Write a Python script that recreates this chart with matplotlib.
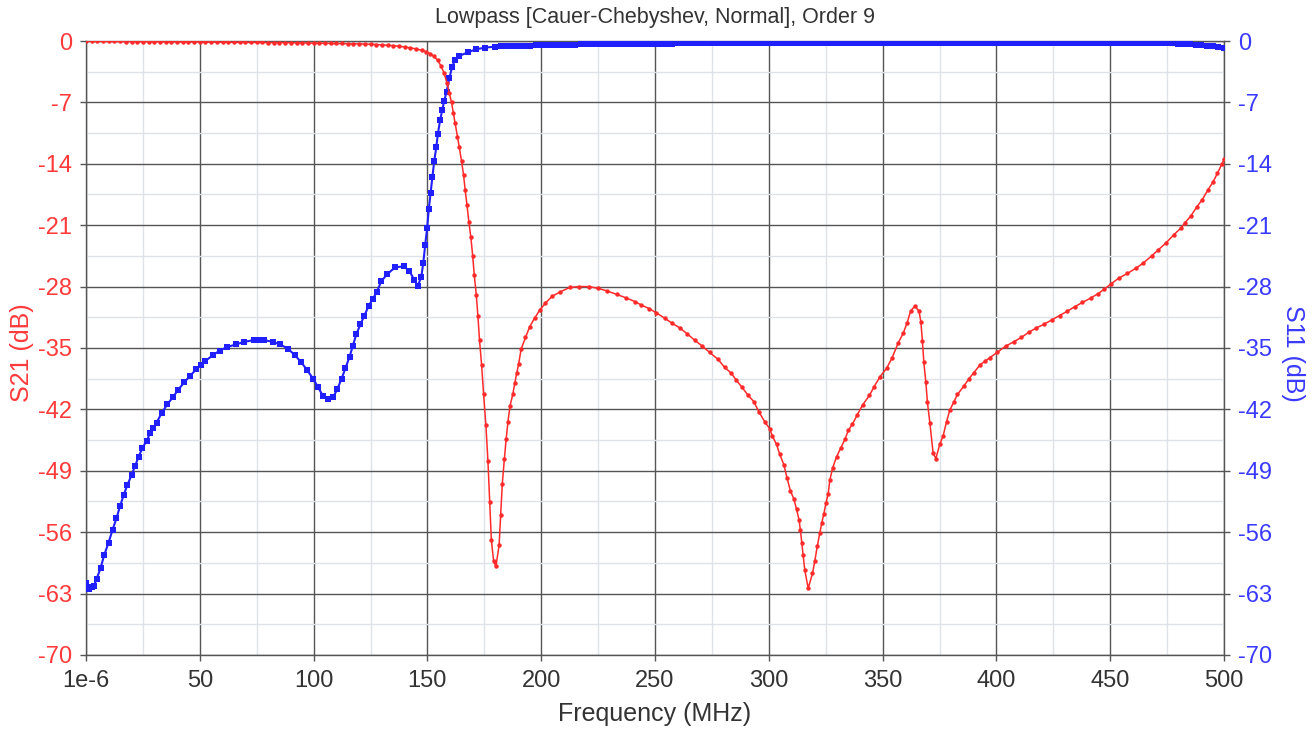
import matplotlib
matplotlib.use("Agg")
import matplotlib.pyplot as plt
from matplotlib.ticker import FixedLocator, MultipleLocator, FixedFormatter

plt.rcParams['font.family'] = ['Liberation Sans', 'DejaVu Sans']
plt.rcParams['axes.unicode_minus'] = False

title = "Lowpass [Cauer-Chebyshev, Normal], Order 9"
xlabel = "Frequency (MHz)"
ylabel_left = "S21 (dB)"
ylabel_right = "S11 (dB)"

x_ticks = [0, 50, 100, 150, 200, 250, 300, 350, 400, 450, 500]
x_tick_labels = ["1e-6", "50", "100", "150", "200", "250", "300", "350", "400", "450", "500"]
y_ticks = [0, -7, -14, -21, -28, -35, -42, -49, -56, -63, -70]
y_tick_labels = ["0", "-7", "-14", "-21", "-28", "-35", "-42", "-49", "-56", "-63", "-70"]

# S21 (red)
s21_freq = [0, 2.5, 5, 7.5, 10, 12.5, 15, 17.5, 20, 22.5, 25, 27.5, 30, 32.5, 35, 37.5, 40, 42.5, 45, 47.5,
            50, 52.5, 55, 57.5, 60, 62.5, 65, 67.5, 70, 72.5, 75, 77.5, 80, 82.5, 85, 87.5, 90, 92.5, 95, 97.5,
            100, 102.5, 105, 107.5, 110, 112.5, 115, 117.5, 120, 122.5, 125, 127.5, 130, 132.5, 135, 137.5,
            140, 142.5, 145, 147.5, 149.5, 151.3, 152.9, 154.5, 155.9, 157.4, 158.6, 159.6, 160.6, 161.4,
            162.2, 163.2, 164.0, 165.0, 165.9, 166.6, 167.4, 168.2, 169.1, 169.9, 170.6, 171.5, 172.2, 172.9,
            173.8, 174.7, 175.7, 176.6, 177.4, 178.1, 179.1, 180.1, 181.5, 182.2, 182.9, 183.8, 184.6, 185.4,
            186.3, 187.5, 188.4, 189.3, 190.1, 191.2, 193.1, 194.9, 197.1, 199.3, 201.8, 204.8, 208.4, 212.5,
            216.6, 221.0, 224.9, 229.0, 233.3, 237.4, 241.1, 244.0, 247.4, 250.6, 254.3, 257.6, 260.9, 264.2,
            267.4, 270.8, 274.0, 277.7, 280.6, 283.6, 285.8, 288.3, 290.9, 293.4, 295.7, 298.2, 300.4, 301.5,
            303.4, 304.8, 306.6, 308.0, 309.5, 311.0, 312.2, 313.3, 313.9, 314.5, 315.1, 315.8, 317.3, 319.2,
            320.2, 321.3, 322.4, 323.3, 324.2, 325.1, 326.1, 326.8, 328.0, 329.8, 331.6, 333.5, 334.9, 336.7,
            338.9, 341.2, 344.2, 346.3, 348.8, 351.8, 354.2, 356.9, 359.1, 360.8, 362.3, 364.2, 366.0, 366.8,
            367.5, 368.1, 369.0, 369.7, 370.8, 372.2, 373.4, 375.1, 376.6, 378.1, 379.5, 381.4, 382.9, 385.8,
            388.0, 390.1, 392.9, 395.0, 397.1, 400.3, 404.0, 407.6, 410.9, 414.3, 417.6, 420.9, 424.3, 427.8,
            431.2, 434.4, 437.8, 441.5, 444.7, 447.4, 450.3, 454.0, 457.6, 461.3, 464.6, 468.2, 471.2, 474.6,
            477.9, 481.2, 482.9, 485.3, 488.1, 490.4, 492.9, 495.1, 497.1, 499.1, 500.0]
s21_db = [0, -0.01, -0.02, -0.03, -0.04, -0.05, -0.05, -0.06, -0.07, -0.07, -0.08, -0.08, -0.09, -0.09, -0.10,
          -0.10, -0.10, -0.11, -0.11, -0.12, -0.12, -0.12, -0.13, -0.13, -0.14, -0.14, -0.15, -0.15, -0.16, -0.16,
          -0.17, -0.17, -0.18, -0.18, -0.19, -0.19, -0.20, -0.20, -0.21, -0.22, -0.23, -0.24, -0.25, -0.26, -0.27,
          -0.28, -0.30, -0.31, -0.33, -0.35, -0.37, -0.40, -0.44, -0.48, -0.53, -0.60, -0.68, -0.78, -0.90, -1.05,
          -1.22, -1.45, -1.75, -2.2, -2.8, -3.7, -4.8, -5.9, -7.0, -8.2, -9.4, -10.9, -12.1, -13.7, -15.3, -17.0,
          -18.7, -20.6, -22.4, -24.5, -26.7, -29.0, -31.4, -34.1, -36.9, -40.3, -43.8, -47.9, -52.6, -56.9, -59.3,
          -59.9, -57.5, -54.0, -50.5, -47.7, -45.4, -43.4, -41.6, -40.3, -39.0, -37.8, -36.8, -35.1, -33.8, -32.6,
          -31.6, -30.7, -29.9, -29.1, -28.6, -28.1, -28.0, -28.0, -28.2, -28.5, -28.9, -29.3, -29.7, -30.1, -30.5,
          -31.0, -31.6, -32.2, -32.7, -33.4, -34.1, -34.8, -35.5, -36.3, -37.2, -37.9, -38.7, -39.5, -40.4, -41.1,
          -42.3, -43.4, -44.2, -45.0, -46.0, -47.1, -48.3, -49.8, -51.3, -52.2, -53.4, -54.6, -55.8, -57.2, -58.6,
          -60.3, -62.4, -60.7, -59.3, -57.6, -56.1, -54.9, -53.9, -52.7, -51.6, -50.1, -48.7, -47.4, -46.4, -45.4,
          -44.4, -43.7, -42.6, -41.5, -40.4, -39.4, -38.3, -37.3, -36.1, -34.4, -33.3, -32.1, -30.8, -30.2, -30.8,
          -32.0, -34.2, -36.6, -38.9, -41.2, -43.6, -47.0, -47.6, -46.0, -45.0, -43.4, -42.1, -41.1, -40.3, -39.3,
          -38.5, -37.8, -36.9, -36.5, -36.1, -35.5, -34.8, -34.3, -33.8, -33.2, -32.7, -32.3, -31.8, -31.3, -30.8,
          -30.3, -29.8, -29.3, -28.8, -28.3, -27.7, -27.0, -26.5, -25.9, -25.3, -24.5, -23.8, -23.0, -22.1, -21.3,
          -20.7, -20.0, -18.9, -18.1, -17.0, -16.1, -15.1, -14.0, -13.5]

# S11 (blue)
s11_freq = [0, 1.2, 2.5, 3.5, 4.7, 6.4, 8.0, 9.9, 11.7, 13.4, 15.0, 16.5, 18.2, 20.0, 21.6, 23.1, 24.8, 26.6,
            28.2, 29.6, 31.0, 33.3, 35.8, 38.2, 40.4, 43.2, 45.7, 48.5, 50.5, 52.3, 55.9, 58.7, 62.0, 65.7, 69.6,
            73.7, 76.0, 78.1, 82.2, 85.4, 88.8, 91.7, 94.5, 97.1, 99.8, 102.0, 104.2, 106.4, 108.6, 110.4, 112.3,
            114.0, 115.8, 117.2, 118.8, 120.6, 122.3, 124.2, 126.0, 127.8, 129.7, 132.3, 135.8, 139.6, 142.1,
            144.3, 145.8, 147.3, 148.2, 149.0, 149.9, 150.6, 151.4, 152.2, 153.0, 153.9, 154.6, 155.6, 156.5,
            157.4, 158.4, 159.7, 160.8, 162.0, 164.0, 167.7, 171.3, 175.3, 179.6,
            182.5, 185, 187.5, 190, 192.5, 195, 197.5, 200, 202.5, 205,
            207.5, 210, 212.5, 215, 217.5, 220, 222.5, 225, 227.5, 230,
            232.5, 235, 237.5, 240, 242.5, 245, 247.5, 250, 252.5, 255,
            257.5, 260, 262.5, 265, 267.5, 270, 272.5, 275, 277.5, 280,
            282.5, 285, 287.5, 290, 292.5, 295, 297.5, 300, 302.5, 305,
            307.5, 310, 312.5, 315, 317.5, 320, 322.5, 325, 327.5, 330,
            332.5, 335, 337.5, 340, 342.5, 345, 347.5, 350, 352.5, 355,
            357.5, 360, 362.5, 365, 367.5, 370, 372.5, 375, 377.5, 380,
            382.5, 385, 387.5, 390, 392.5, 395, 397.5, 400, 402.5, 405,
            407.5, 410, 412.5, 415, 417.5, 420, 422.5, 425, 427.5, 430,
            432.5, 435, 437.5, 440, 442.5, 445, 447.5, 450, 452.5, 455,
            457.5, 460, 462.5, 465, 467.5, 470, 472.5, 475, 477.5, 480,
            482.5, 485, 487.5, 490, 492.5, 495, 497.5, 500]
s11_db = [-61.8, -62.5, -62.3, -62.1, -61.3, -60.1, -58.6, -57.2, -55.7, -54.4, -53.0, -51.8, -50.6, -49.5,
          -48.4, -47.4, -46.4, -45.6, -44.7, -44.1, -43.5, -42.4, -41.4, -40.6, -39.8, -38.9, -38.2, -37.4, -36.9,
          -36.5, -35.8, -35.3, -34.9, -34.6, -34.3, -34.1, -34.05, -34.1, -34.3, -34.6, -35.1, -35.8, -36.6, -37.5,
          -38.5, -39.5, -40.5, -40.8, -40.6, -39.7, -38.5, -37.3, -36.0, -34.8, -33.4, -32.3, -31.3, -30.2, -29.4,
          -28.6, -27.4, -26.6, -25.8, -25.7, -26.2, -27.3, -27.9, -26.9, -25.3, -23.3, -21.3, -19.2, -17.3, -15.5,
          -13.7, -12.1, -10.6, -9.0, -7.9, -6.8, -5.8, -4.2, -3.0, -2.2, -1.7, -1.3, -0.95, -0.75, -0.65,
          -0.62, -0.60, -0.58, -0.56, -0.54, -0.52, -0.50, -0.48, -0.46, -0.45,
          -0.43, -0.42, -0.41, -0.40, -0.39, -0.38, -0.37, -0.36, -0.35, -0.35,
          -0.34, -0.33, -0.33, -0.32, -0.32, -0.31, -0.31, -0.30, -0.30, -0.29,
          -0.29, -0.28, -0.28, -0.28, -0.27, -0.27, -0.27, -0.26, -0.26, -0.26,
          -0.26, -0.25, -0.25, -0.25, -0.25, -0.24, -0.24, -0.24, -0.24, -0.24,
          -0.23, -0.23, -0.23, -0.23, -0.23, -0.22, -0.22, -0.22, -0.22, -0.22,
          -0.22, -0.21, -0.21, -0.21, -0.21, -0.21, -0.21, -0.21, -0.20, -0.20,
          -0.20, -0.20, -0.20, -0.20, -0.20, -0.20, -0.20, -0.20, -0.19, -0.19,
          -0.19, -0.19, -0.19, -0.19, -0.19, -0.19, -0.19, -0.19, -0.19, -0.19,
          -0.19, -0.19, -0.19, -0.19, -0.19, -0.19, -0.19, -0.19, -0.19, -0.19,
          -0.19, -0.19, -0.20, -0.20, -0.20, -0.20, -0.20, -0.20, -0.20, -0.21,
          -0.21, -0.21, -0.22, -0.22, -0.23, -0.24, -0.25, -0.26, -0.28, -0.30,
          -0.33, -0.36, -0.40, -0.45, -0.52, -0.62, -0.72, -0.85]

RED = '#ff2a2a'
BLUE = '#2020ff'
RED_TXT = '#ff3a3a'
BLUE_TXT = '#3a3aff'

fig = plt.figure(figsize=(13.16, 7.29), dpi=100)
ax = fig.add_axes([86/1316, 1-655/729, (1224-86)/1316, (655-41)/729])

ax.set_xlim(0, 500)
ax.set_ylim(-70, 0)

ax.xaxis.set_major_locator(FixedLocator(x_ticks))
ax.xaxis.set_major_formatter(FixedFormatter(x_tick_labels))
ax.xaxis.set_minor_locator(MultipleLocator(25))
ax.yaxis.set_major_locator(FixedLocator(y_ticks))
ax.yaxis.set_major_formatter(FixedFormatter(y_tick_labels))
ax.yaxis.set_minor_locator(MultipleLocator(3.5))

ax.grid(which='minor', color='#dfe2e8', linewidth=1.0)
ax.grid(which='major', color='#555555', linewidth=1.0)
ax.set_axisbelow(True)

ax.plot(s11_freq, s11_db, color=BLUE, linewidth=1.5, marker='s', markersize=4.2,
        markeredgewidth=0, zorder=3)
ax.plot(s21_freq, s21_db, color=RED, linewidth=1.1, marker='o', markersize=3.2,
        markeredgewidth=0, zorder=4)

for s in ax.spines.values():
    s.set_color('#555555')
    s.set_linewidth(1.0)

ax.tick_params(axis='x', which='major', length=4, width=1, color='#555555', labelsize=17,
               labelcolor='#333333', pad=7)
ax.tick_params(axis='y', which='major', length=4, width=1, color='#555555', labelsize=17,
               labelcolor=RED_TXT, pad=6)
ax.tick_params(which='minor', length=0)

ax2 = ax.twinx()
ax2.set_ylim(-70, 0)
ax2.yaxis.set_major_locator(FixedLocator(y_ticks))
ax2.yaxis.set_major_formatter(FixedFormatter(y_tick_labels))
ax2.tick_params(axis='y', which='major', length=4, width=1, color='#555555', labelsize=17,
                labelcolor=BLUE_TXT, pad=6)
for s in ax2.spines.values():
    s.set_visible(False)

fig.text(655/1316, 1-18/729, title, ha='center', va='center', fontsize=15.5, color='#333333')
fig.text(655/1316, 1-714/729, xlabel, ha='center', va='center', fontsize=18, color='#333333')
fig.text(22/1316, 1-353/729, ylabel_left, ha='center', va='center', rotation=90, fontsize=18,
         color=RED_TXT)
fig.text(1293/1316, 1-353/729, ylabel_right, ha='center', va='center', rotation=270, fontsize=18,
         color=BLUE_TXT)

fig.savefig('out.png', dpi=100)
